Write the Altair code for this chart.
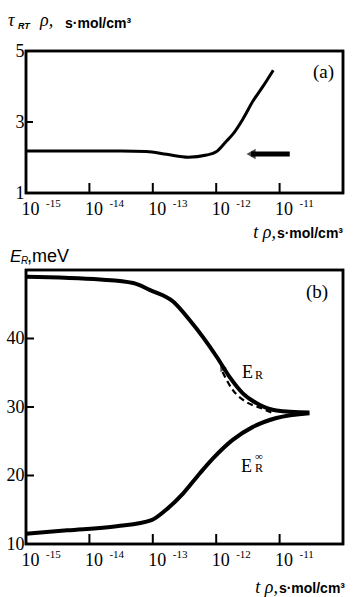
import altair as alt
import pandas as pd

# ---------------- data ----------------
# panel (a): tau_RT*rho vs log10(t*rho)
a_log_t = [-15.0, -14.0, -13.5, -13.1, -12.78, -12.44, -12.15, -12.0, -11.84, -11.74, -11.58, -11.42, -11.26, -11.1]
a_tau = [2.18, 2.18, 2.18, 2.17, 2.09, 2.01, 2.07, 2.16, 2.46, 2.65, 3.08, 3.59, 4.01, 4.46]
arrow_a_log_t = [-10.84, -11.45]
arrow_a_tau = [2.1, 2.1]
arrow_a_head_log_t = [-11.45]
arrow_a_head_tau = [2.1]

# panel (b): E_R (upper), E_R^inf (lower), dashed E_R branch
er_log_t = [-15.0, -13.83, -13.31, -13.05, -12.68, -12.42, -12.2, -11.99, -11.79, -11.58, -11.31, -11.05, -10.53]
er_val = [49.0, 48.6, 48.1, 47.1, 45.4, 42.7, 40.1, 37.3, 34.4, 32.0, 30.3, 29.5, 29.2]
erinf_log_t = [-15.0, -14.35, -13.57, -13.02, -12.79, -12.52, -12.26, -12.05, -11.74, -11.42, -11.05, -10.53]
erinf_val = [11.5, 12.0, 12.6, 13.5, 15.0, 17.4, 20.3, 22.5, 25.2, 27.1, 28.4, 29.1]
dash_log_t = [-11.9, -11.74, -11.52, -11.31, -11.13]
dash_val = [35.1, 32.5, 30.7, 29.9, 29.2]
arrow_b_log_t = [-11.91]
arrow_b_val = [35.8]

x_domain = [-15, -10]
ya_domain = [1, 5]
yb_domain = [10, 50]
x_ticks = [-15, -14, -13, -12, -11]
x_tick_exponents = ["-15", "-14", "-13", "-12", "-11"]
a_y_ticks = [1, 3, 5]
b_y_ticks = [10, 20, 30, 40]

# ---------------- style ----------------
W = 317
HA = 142
HB = 274
SERIF = "Liberation Serif"
SANS = "Liberation Sans"
FRAME = alt.ViewBackground(stroke="black", strokeWidth=2.5)

x_axis = alt.Axis(values=x_ticks, labelExpr="'10'", labelFont=SERIF, labelFontSize=18,
                  labelColor="black", labelAlign="left", labelOffset=-5, labelPadding=7,
                  labelBaseline="top", ticks=False, domain=False, grid=False, title=None)
x_scale = alt.Scale(domain=x_domain, nice=False, zero=False)


def y_axis(vals):
    return alt.Axis(values=vals, labelFont=SERIF, labelFontSize=18, labelColor="black",
                    labelPadding=2, ticks=False, domain=False, grid=False, title=None,
                    labelBaseline="middle")


def txt(s, x, y, font=SERIF, size=17, style="normal", weight="normal", align="left"):
    return alt.Chart(pd.DataFrame({"s": [s]})).mark_text(
        font=font, fontSize=size, fontStyle=style, fontWeight=weight, align=align,
        baseline="alphabetic", color="black").encode(
        x=alt.value(x), y=alt.value(y), text="s:N")


def exponents(h):
    return alt.Chart(pd.DataFrame({"x": x_ticks, "e": x_tick_exponents})).mark_text(
        font=SERIF, fontSize=11, align="left", baseline="alphabetic", color="black", dx=20).encode(
        x="x:Q", y=alt.value(h + 14), text="e:N")


def frame_and_ticks(ydom, yticks, h, ylen_px):
    # closed frame along the scale domain edges
    fr = pd.DataFrame({"x": [x_domain[0], x_domain[1], x_domain[1], x_domain[0], x_domain[0]],
                       "y": [ydom[0], ydom[0], ydom[1], ydom[1], ydom[0]],
                       "o": [0, 1, 2, 3, 4]})
    frame = alt.Chart(fr).mark_line(color="black", strokeWidth=2.5, strokeJoin="miter",
                                    strokeCap="square").encode(x="x:Q", y="y:Q", order="o:Q")
    # inward tick marks
    rows = []
    dy = (ydom[1] - ydom[0]) * 10.0 / h
    for i, t in enumerate(x_ticks[1:]):
        rows.append({"x": t, "y": ydom[0], "k": "x%d" % i, "o": 0})
        rows.append({"x": t, "y": ydom[0] + dy, "k": "x%d" % i, "o": 1})
    dx = (x_domain[1] - x_domain[0]) * ylen_px / W
    for i, v in enumerate(yticks):
        rows.append({"x": x_domain[0], "y": v, "k": "y%d" % i, "o": 0})
        rows.append({"x": x_domain[0] + dx, "y": v, "k": "y%d" % i, "o": 1})
    tk = alt.Chart(pd.DataFrame(rows)).mark_line(color="black", strokeWidth=2).encode(
        x="x:Q", y="y:Q", detail="k:N", order="o:Q")
    return frame, tk


# ---------------- panel (a) ----------------
df_a = pd.DataFrame({"x": a_log_t, "y": a_tau})
ya_scale = alt.Scale(domain=ya_domain, nice=False, zero=False)

line_a = alt.Chart(df_a).mark_line(color="black", strokeWidth=3, interpolate="monotone").encode(
    x=alt.X("x:Q", scale=x_scale, axis=x_axis),
    y=alt.Y("y:Q", scale=ya_scale, axis=y_axis(a_y_ticks)))

arrow_line = alt.Chart(pd.DataFrame({"x": arrow_a_log_t, "y": arrow_a_tau})).mark_line(
    color="black", strokeWidth=5).encode(x="x:Q", y="y:Q")
arrow_head = alt.Chart(pd.DataFrame({"x": arrow_a_head_log_t, "y": arrow_a_head_tau})).mark_point(
    shape="triangle-left", filled=True, color="black", size=110).encode(x="x:Q", y="y:Q")

frame_a, ticks_a = frame_and_ticks(ya_domain, [3], HA, 7)

panel_a = alt.layer(
    line_a, frame_a, ticks_a, arrow_line, arrow_head, exponents(HA),
    txt("(a)", 287, 27, size=19),
    txt("τ", -18, -25, style="italic", size=18),
    txt("RT", -8, -22, font=SANS, style="italic", weight="bold", size=9),
    txt("ρ,", 14, -25, style="italic", size=18),
    txt("s·mol/cm³", 39, -23, font=SANS, weight="bold", size=14),
    txt("t ρ,", 250, 187, style="italic", size=18, align="right"),
    txt("s·mol/cm³", 317, 187, font=SANS, weight="bold", size=14, align="right"),
).properties(width=W, height=HA, view=FRAME)

# ---------------- panel (b) ----------------
yb_scale = alt.Scale(domain=yb_domain, nice=False, zero=False)
df_er = pd.DataFrame({"x": er_log_t, "y": er_val})
df_erinf = pd.DataFrame({"x": erinf_log_t, "y": erinf_val})
df_dash = pd.DataFrame({"x": dash_log_t, "y": dash_val})

line_er = alt.Chart(df_er).mark_line(color="black", strokeWidth=4, interpolate="monotone").encode(
    x=alt.X("x:Q", scale=x_scale, axis=x_axis),
    y=alt.Y("y:Q", scale=yb_scale, axis=y_axis(b_y_ticks)))
line_erinf = alt.Chart(df_erinf).mark_line(color="black", strokeWidth=4, interpolate="monotone").encode(
    x="x:Q", y="y:Q")
line_dash = alt.Chart(df_dash).mark_line(color="black", strokeWidth=2.2, strokeDash=[6, 4],
                                         interpolate="monotone").encode(x="x:Q", y="y:Q")
arrow_b = alt.Chart(pd.DataFrame({"x": arrow_b_log_t, "y": arrow_b_val})).mark_point(
    shape="triangle-up", filled=True, color="black", size=60, angle=327).encode(x="x:Q", y="y:Q")

frame_b, ticks_b = frame_and_ticks(yb_domain, b_y_ticks[1:], HB, 8)

panel_b = alt.layer(
    line_er, frame_b, ticks_b, line_erinf, line_dash, arrow_b, exponents(HB),
    txt("(b)", 280, 28, size=19),
    txt("E", 216, 108, size=18),
    txt("R", 229, 109, size=12),
    txt("E", 215, 202, size=18),
    txt("R", 229, 202, size=12),
    txt("∞", 229, 190, size=11),
    txt("E", -16, -8, font=SANS, style="italic", size=17),
    txt("R", -5, -6, font=SANS, style="italic", size=10),
    txt(",meV", 1, -8, font=SANS, size=18),
    txt("t ρ,", 252, 323, style="italic", size=18, align="right"),
    txt("s·mol/cm³", 319, 323, font=SANS, weight="bold", size=14, align="right"),
).properties(width=W, height=HB, view=FRAME)

chart = alt.vconcat(panel_a, panel_b, spacing=2).properties(
    padding={"left": 4, "top": 10, "right": 0, "bottom": 0})

chart.save("out.html", embed_options={"renderer": "svg", "actions": False})
